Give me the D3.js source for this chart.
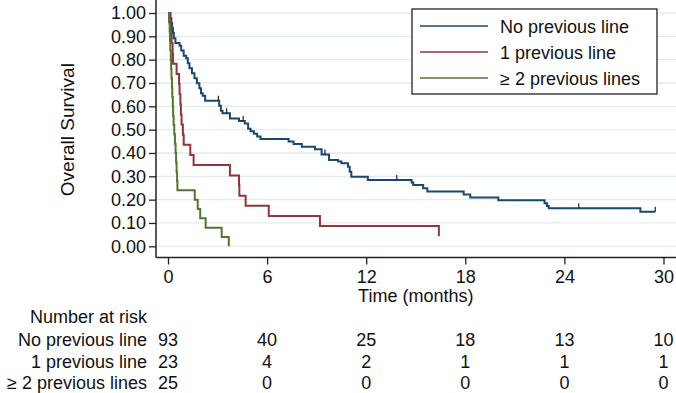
<!DOCTYPE html>
<html lang="en">
  <head>
    <meta charset="utf-8" />
    <title>Overall Survival</title>
    <script src="https://d3js.org/d3.v7.min.js"></script>
    <style>
      body { margin: 0; background: white; }
      text { font-family: "Liberation Sans", Arial, sans-serif; fill: #111; }
    </style>
  </head>
  <body>
    <div id="chart"></div>
    <script>
      // Kaplan-Meier steps [months, survival]
      var noPrevious = [
        [0, 1.0], [0.15, 0.978], [0.2, 0.957], [0.25, 0.935], [0.3, 0.914], [0.35, 0.892],
        [0.45, 0.871], [0.7, 0.86], [0.8, 0.839], [0.95, 0.817], [1.1, 0.806], [1.2, 0.785],
        [1.3, 0.763], [1.45, 0.742], [1.6, 0.72], [1.75, 0.699], [1.9, 0.677], [2.0, 0.656],
        [2.1, 0.645], [2.25, 0.624], [3.1, 0.602], [3.2, 0.581], [3.3, 0.57], [3.75, 0.548],
        [4.3, 0.537], [4.65, 0.526], [4.85, 0.504], [5.0, 0.493], [5.2, 0.482], [5.4, 0.471],
        [5.6, 0.46], [7.3, 0.449], [7.6, 0.438], [8.1, 0.427], [8.9, 0.416], [9.3, 0.393],
        [9.75, 0.37], [10.3, 0.363], [10.5, 0.356], [10.9, 0.341], [11.0, 0.32], [11.1, 0.298],
        [12.1, 0.284], [14.75, 0.274], [14.85, 0.263], [15.45, 0.249], [15.7, 0.235],
        [17.9, 0.222], [18.3, 0.209], [20.0, 0.197], [22.8, 0.185], [22.95, 0.173],
        [23.05, 0.163], [28.6, 0.148], [29.5, 0.148]
      ];
      var onePrevious = [
        [0, 1.0], [0.12, 0.957], [0.18, 0.913], [0.22, 0.87], [0.28, 0.826], [0.3, 0.783],
        [0.52, 0.739], [0.67, 0.696], [0.7, 0.652], [0.75, 0.609], [0.78, 0.565], [0.82, 0.522],
        [0.9, 0.478], [0.95, 0.435], [1.35, 0.391], [1.55, 0.348], [3.75, 0.304], [4.3, 0.261],
        [4.32, 0.217], [4.7, 0.174], [6.1, 0.13], [9.2, 0.087], [16.4, 0.043]
      ];
      var twoPrevious = [
        [0, 1.0], [0.06, 0.96], [0.1, 0.92], [0.12, 0.88], [0.14, 0.84], [0.17, 0.8],
        [0.19, 0.76], [0.21, 0.72], [0.24, 0.68], [0.26, 0.64], [0.29, 0.6], [0.31, 0.56],
        [0.34, 0.52], [0.38, 0.48], [0.42, 0.44], [0.46, 0.4], [0.49, 0.36], [0.52, 0.32],
        [0.55, 0.28], [0.57, 0.24], [1.62, 0.2], [1.8, 0.16], [1.95, 0.12], [2.28, 0.08],
        [3.25, 0.04], [3.68, 0.0]
      ];
      // censoring marks on the top curve
      var noPreviousCensored = [
        [3.05, 0.624], [3.55, 0.57], [4.55, 0.537], [9.5, 0.393], [13.85, 0.284],
        [24.87, 0.163], [29.5, 0.148]
      ];

      var groupNames = ["No previous line", "1 previous line", "\u2265 2 previous lines"];
      var groupColors = ["#1a476f", "#90353b", "#55752f"];

      var xTicks = [0, 6, 12, 18, 24, 30];
      var yTicks = [0, 0.1, 0.2, 0.3, 0.4, 0.5, 0.6, 0.7, 0.8, 0.9, 1.0];

      var riskNoPrevious = [93, 40, 25, 18, 13, 10];
      var riskOnePrevious = [23, 4, 2, 1, 1, 1];
      var riskTwoPrevious = [25, 0, 0, 0, 0, 0];

      var width = 676,
        height = 393;

      var svg = d3
        .select("#chart")
        .append("svg")
        .attr("width", width)
        .attr("height", height);

      var x = d3.scaleLinear().domain([0, 30]).range([168, 663.5]);
      var y = d3.scaleLinear().domain([0, 1]).range([246.3, 13]);

      var axisX0 = 156,
        axisY0 = 257.5;

      // grid lines
      svg
        .append("g")
        .selectAll("line")
        .data(yTicks)
        .join("line")
        .attr("x1", axisX0)
        .attr("x2", width)
        .attr("y1", function (d) { return y(d); })
        .attr("y2", function (d) { return y(d); })
        .attr("stroke", "#e1ebf2")
        .attr("stroke-width", 1.3);

      // y axis
      var yAxis = svg
        .append("g")
        .attr("transform", "translate(" + axisX0 + ",0)")
        .call(
          d3.axisLeft(y).tickValues(yTicks).tickSize(7).tickPadding(3).tickFormat(d3.format(".2f"))
        );
      yAxis.select(".domain").remove();
      svg
        .append("line")
        .attr("x1", axisX0).attr("x2", axisX0)
        .attr("y1", 0).attr("y2", axisY0)
        .attr("stroke", "#222").attr("stroke-width", 1.5);

      // x axis
      var xAxis = svg
        .append("g")
        .attr("transform", "translate(0," + axisY0 + ")")
        .call(d3.axisBottom(x).tickValues(xTicks).tickSize(7).tickPadding(5.5));
      xAxis.select(".domain").remove();
      svg
        .append("line")
        .attr("x1", axisX0).attr("x2", width)
        .attr("y1", axisY0).attr("y2", axisY0)
        .attr("stroke", "#222").attr("stroke-width", 1.5);

      svg.selectAll(".tick line").attr("stroke", "#222").attr("stroke-width", 1.3);
      svg
        .selectAll(".tick text")
        .style("font-family", "'Liberation Sans', Arial, sans-serif")
        .style("font-size", "18px")
        .attr("fill", "#111");

      // axis titles
      svg
        .append("text")
        .attr("transform", "translate(74," + (y(0) + y(1)) / 2 + ") rotate(-90)")
        .attr("text-anchor", "middle")
        .style("font-size", "19px")
        .text("Overall Survival");

      svg
        .append("text")
        .attr("x", (x(0) + x(30)) / 2)
        .attr("y", 302)
        .attr("text-anchor", "middle")
        .style("font-size", "18px")
        .text("Time (months)");

      // survival curves
      var km = d3
        .line()
        .curve(d3.curveStepAfter)
        .x(function (d) { return x(d[0]); })
        .y(function (d) { return y(d[1]); });

      [noPrevious, onePrevious, twoPrevious].forEach(function (series, i) {
        svg
          .append("path")
          .datum(series)
          .attr("fill", "none")
          .attr("stroke", groupColors[i])
          .attr("stroke-width", 2)
          .attr("d", km);
      });

      svg
        .append("g")
        .selectAll("line")
        .data(noPreviousCensored)
        .join("line")
        .attr("x1", function (d) { return x(d[0]); })
        .attr("x2", function (d) { return x(d[0]); })
        .attr("y1", function (d) { return y(d[1]); })
        .attr("y2", function (d) { return y(d[1]) - 5; })
        .attr("stroke", "#222")
        .attr("stroke-width", 1.2);

      // legend
      var legend = svg.append("g").attr("transform", "translate(412,9)");
      legend
        .append("rect")
        .attr("width", 245)
        .attr("height", 85)
        .attr("fill", "white")
        .attr("stroke", "#111")
        .attr("stroke-width", 1.2);
      groupNames.forEach(function (name, i) {
        var cy = 17 + i * 26;
        legend
          .append("line")
          .attr("x1", 8).attr("x2", 76)
          .attr("y1", cy).attr("y2", cy)
          .attr("stroke", groupColors[i])
          .attr("stroke-width", 1.6);
        legend
          .append("text")
          .attr("x", 88)
          .attr("y", cy + 6.5)
          .style("font-size", "18px")
          .text(name);
      });

      // number at risk table
      svg
        .append("text")
        .attr("x", 147)
        .attr("y", 322.5)
        .attr("text-anchor", "end")
        .style("font-size", "18px")
        .text("Number at risk");

      [riskNoPrevious, riskOnePrevious, riskTwoPrevious].forEach(function (row, i) {
        var by = 346 + i * 21.5;
        svg
          .append("text")
          .attr("x", 147)
          .attr("y", by)
          .attr("text-anchor", "end")
          .style("font-size", "18px")
          .text(groupNames[i]);
        svg
          .append("g")
          .selectAll("text")
          .data(row)
          .join("text")
          .attr("x", function (d, j) { return x(xTicks[j]); })
          .attr("y", by)
          .attr("text-anchor", "middle")
          .style("font-size", "18px")
          .text(function (d) { return d; });
      });
    </script>
  </body>
</html>
